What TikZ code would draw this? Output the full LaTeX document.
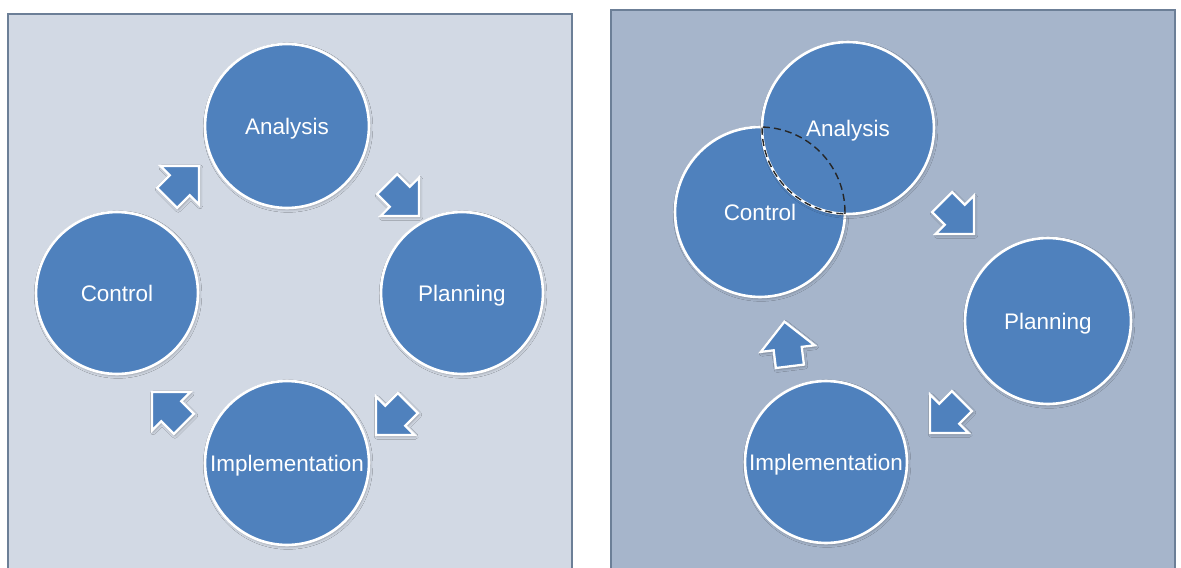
\documentclass[tikz,border=0pt]{standalone}
\usepackage{fontspec}
\setmainfont{Liberation Sans}
\usetikzlibrary{shapes.arrows,shadows.blur}
\definecolor{paneA}{HTML}{D2D9E4}
\definecolor{paneB}{HTML}{A6B5CB}
\definecolor{paneEdge}{HTML}{6C7F97}
\definecolor{disc}{HTML}{4F81BD}
\begin{document}
\begin{tikzpicture}[x=0.02cm,y=-0.02cm,
  softshadow/.style={blur shadow={shadow xshift=0.6pt, shadow yshift=-0.9pt,
      shadow blur radius=1.6pt, shadow opacity=30}},
  stage/.style={circle, fill=disc, draw=white, line width=1.5pt, text=white,
      font=\fontsize{12.8}{15}\selectfont, inner sep=0pt, text depth=0pt,
      minimum size=#1*0.04cm, softshadow},
  flow/.style={single arrow, fill=disc, draw=white, line width=1.3pt,
      inner xsep=0pt, inner ysep=0.26cm, text height=0pt, text depth=0pt,
      text width=0pt, minimum height=0.9cm,
      single arrow head extend=0.26cm, single arrow tip angle=90,
      rotate=#1, softshadow},
  panel/.style={draw=paneEdge, line width=1pt},
  lens/.style={draw=black!85, line width=0.8pt, dash pattern=on 4pt off 2.4pt}
]
\useasboundingbox (0,0) rectangle (1181,568);

% ---- left panel: plain cycle ----
\fill[paneA] (8,14) rectangle (572,575);
\draw[panel] (8,575) -- (8,14) -- (572,14) -- (572,575);

\node[stage=82] (la) at (287,126) {Analysis};
\node[stage=81] (lc) at (117,293) {Control};
\node[stage=81] (lp) at (462,293) {Planning};
\node[stage=82] (li) at (287,463) {Implementation};

\node[flow=45]   (lca) at (178,187) {};
\node[flow=-45]  (lap) at (398,195) {};
\node[flow=-135] (lpi) at (397,414) {};
\node[flow=135]  (lic) at (173,413) {};

% ---- right panel: overlapping analysis and control ----
\fill[paneB] (611,10) rectangle (1175,575);
\draw[panel] (611,575) -- (611,10) -- (1175,10) -- (1175,575);

\node[stage=85] (rc) at (760,212) {Control};
\node[stage=86] (ra) at (848,128) {Analysis};
\node[stage=83] (rp) at (1048,321) {Planning};
\node[stage=81] (ri) at (826,462) {Implementation};

% dashed outline of the shared region
\begin{scope}
  \clip (rc.center) circle (1.7cm);
  \draw[lens] (ra.center) circle (1.72cm);
\end{scope}
\begin{scope}
  \clip (ra.center) circle (1.72cm);
  \draw[lens] (rc.center) circle (1.7cm);
\end{scope}

\node[flow=-45]  (rap) at (953,213) {};
\node[flow=-135] (rpi) at (951,412) {};
\node[flow=97]   (ric) at (788,351) {};
\end{tikzpicture}
\end{document}
